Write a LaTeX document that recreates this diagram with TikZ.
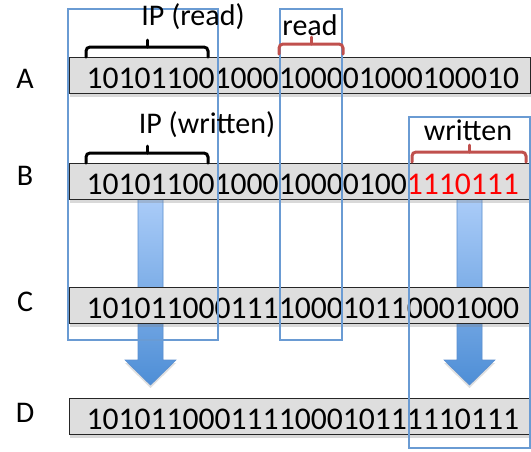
\documentclass[tikz,border=0pt]{standalone}
\usepackage{fontspec}
\setmainfont{Carlito}
\usepackage{tikz}
\usetikzlibrary{positioning, shadows}

\definecolor{barfill}{HTML}{DEDEDE}
\definecolor{winblue}{HTML}{6A9BD3}
\definecolor{bracered}{HTML}{C0504D}
\definecolor{bitred}{HTML}{FF0000}
\definecolor{arrowtop}{HTML}{AACCF8}
\definecolor{arrowbot}{HTML}{4E8ED6}
\definecolor{arrowedge}{HTML}{5A8FD0}

\newcommand{\bitfont}{\fontsize{31.6}{36}\selectfont}
\newcommand{\labfont}{\fontsize{30}{34}\selectfont}
\newcommand{\blockarrow}[1]{%
  \path[fatarrow] ({#1-12.5},199) -- ({#1+12.5},199) -- ({#1+12.5},360)
    -- ({#1+25.5},360) -- (#1,385) -- ({#1-25.5},360) -- ({#1-12.5},360) -- cycle;}
% bracket brace: ends at y, bar at y-10, nub up to y-17
\newcommand{\bitbrace}[4][black]{%
  \draw[bracket, draw=#1] (#2,#4) -- (#2,{#4-10}) -- (#3,{#4-10}) -- (#3,#4);
  \draw[bracket, draw=#1] ({(#2+#3)/2},{#4-10}) -- ({(#2+#3)/2},{#4-17});}

\tikzset{
  bar/.style={draw=black!85, line width=1pt, fill=barfill, anchor=north west,
    minimum width=461pt, minimum height=36pt, text width=427pt,
    inner xsep=17pt, inner ysep=0pt, text height=26pt, text depth=0pt,
    align=left, font=\bitfont,
    drop shadow={shadow xshift=0pt, shadow yshift=-3pt, opacity=0.3}},
  rowlabel/.style={font=\labfont, anchor=base},
  bracelabel/.style={font=\labfont, anchor=base},
  window/.style={draw=winblue, line width=1.2pt},
  bracket/.style={line width=3pt, rounded corners=4pt, line cap=round},
  fatarrow/.style={top color=arrowtop, bottom color=arrowbot, draw=arrowedge,
    line width=0.6pt, drop shadow={shadow xshift=0pt, shadow yshift=-3pt, opacity=0.25}}
}

\begin{document}
\begin{tikzpicture}[x=1pt, y=-1pt]
\useasboundingbox (0,0) rectangle (531,451);

% copy arrows, behind the bars
\blockarrow{150.5}
\blockarrow{469.5}

% the four bit strings
\node[bar] (rowA) at (69,57) {101011001000100001000100010};
\node[bar] (rowB) at (69,163) {10101100100010000100\textcolor{bitred}{1110111}};
\node[bar] (rowC) at (69,287) {101011000111100010110001000};
\node[bar] (rowD) at (69,398) {101011000111100010111110111};

\node[rowlabel] (labA) at (25,88) {A};
\node[rowlabel] (labB) at (25,185) {B};
\node[rowlabel] (labC) at (25,311) {C};
\node[rowlabel] (labD) at (25,422) {D};

% windows
\draw[window] (68,9) rectangle (218,340);
\draw[window] (280,9) rectangle (342,340);
\draw[window] (409,117) rectangle (530,448);

% braces and their labels
\bitbrace{86}{208}{57}
\bitbrace[bracered]{279}{343}{54}
\bitbrace{86}{208}{163}
\bitbrace[bracered]{412}{526}{162}

\node[bracelabel] (ipread) at (193,25) {IP (read)};
\node[bracelabel] (rdlabel) at (310,35) {read};
\node[bracelabel] (ipwritten) at (207,133) {IP (written)};
\node[bracelabel] (wrlabel) at (468,140) {written};
\end{tikzpicture}
\end{document}
